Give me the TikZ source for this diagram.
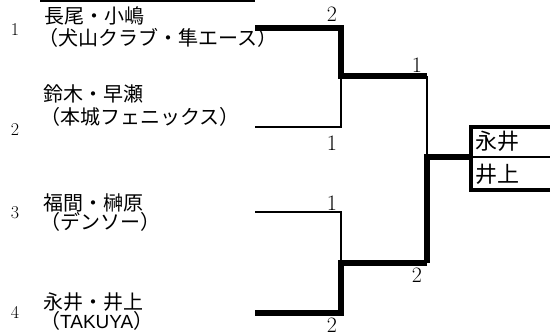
\documentclass[tikz,border=0pt]{standalone}
\usepackage{fontspec}
\newfontfamily\jpfont{Noto Sans CJK JP}
\newfontfamily\latfont{Liberation Sans}
\begin{document}
\begin{tikzpicture}[x=1pt,y=-1pt,
  wthin/.style={line width=1.6pt, line join=miter},
  wthick/.style={line width=6pt, line join=miter},
  jname/.style={anchor=west, inner sep=0pt, font=\jpfont\fontsize{20}{20}\selectfont},
  seednum/.style={inner sep=0pt, font=\fontsize{18}{18}\selectfont},
  score/.style={inner sep=0pt, font=\fontsize{22}{22}\selectfont},
  winner/.style={anchor=west, inner sep=0pt, font=\jpfont\fontsize{22}{22}\selectfont}]
\useasboundingbox (0,0) rectangle (550,336);

% left side texts
\node[seednum] (s1) at (15,30) {1};
\node[seednum] (s2) at (15,130) {2};
\node[seednum] (s3) at (15,213) {3};
\node[seednum] (s4) at (15,312) {4};

\node[jname] (n1) at (44,16) {長尾・小嶋};
\node[jname] (t1) at (38,37.5) {（犬山クラブ・隼エース）};
\node[jname] (n2) at (43,94) {鈴木・早瀬};
\node[jname] (t2) at (40,117) {（本城フェニックス）};
\node[jname] (n3) at (43,203) {福間・榊原};
\node[jname] (t3) at (40,222) {（デンソー）};
\node[jname] (n4) at (43,302) {永井・井上};
\node[anchor=west, inner sep=0pt] (t4) at (40,321)
  {\jpfont\fontsize{20}{20}\selectfont （\latfont\fontsize{19}{19}\selectfont TAKUYA\jpfont\fontsize{20}{20}\selectfont ）};

% coordinates of the bracket
\coordinate (topl) at (40,1);
\coordinate (topr) at (255,1);
\coordinate (a1) at (255,28);
\coordinate (a1c) at (341,28);
\coordinate (m1) at (341,76.5);
\coordinate (f1) at (427,76.5);
\coordinate (a2) at (255,127);
\coordinate (a2c) at (341,127);
\coordinate (a3) at (255,212);
\coordinate (a3c) at (341,212);
\coordinate (m2) at (341,263);
\coordinate (f2) at (427,263);
\coordinate (a4) at (255,313);
\coordinate (a4c) at (341,313);
\coordinate (fm) at (427,157);
\coordinate (bx) at (471,157);

\draw[wthin] (topl) -- (topr);

% match 1
\draw[wthick] (a1) -- (a1c) -- (m1) -- (f1);
\draw[wthin] (m1) -- (a2c) -- (a2);
% match 2
\draw[wthin] (a3) -- (a3c) -- (m2);
\draw[wthick] (f2) -- (m2) -- (a4c) -- (a4);
% final
\draw[wthin] (f1) -- (fm);
\draw[wthick] (f2) -- (fm) -- (bx);

% winner box
\node[winner] (w1) at (475,141.5) {永井};
\node[winner] (w2) at (475,174) {井上};
\coordinate (btl) at (471,127);
\coordinate (btr) at (552,127);
\coordinate (bbl) at (471,190);
\coordinate (bbr) at (552,190);
\coordinate (bmr) at (552,157);
\draw[line width=4pt, line join=miter] (btr) -- (btl) -- (bbl) -- (bbr);
\draw[line width=1.6pt] (bx) -- (bmr);

% scores
\node[score] (sc1) at (332,14.5) {2};
\node[score] (sc2) at (332,143) {1};
\node[score] (sc3) at (332,203) {1};
\node[score] (sc4) at (332,325.5) {2};
\node[score] (sc5) at (417,65.5) {1};
\node[score] (sc6) at (417,275.5) {2};
\end{tikzpicture}
\end{document}
